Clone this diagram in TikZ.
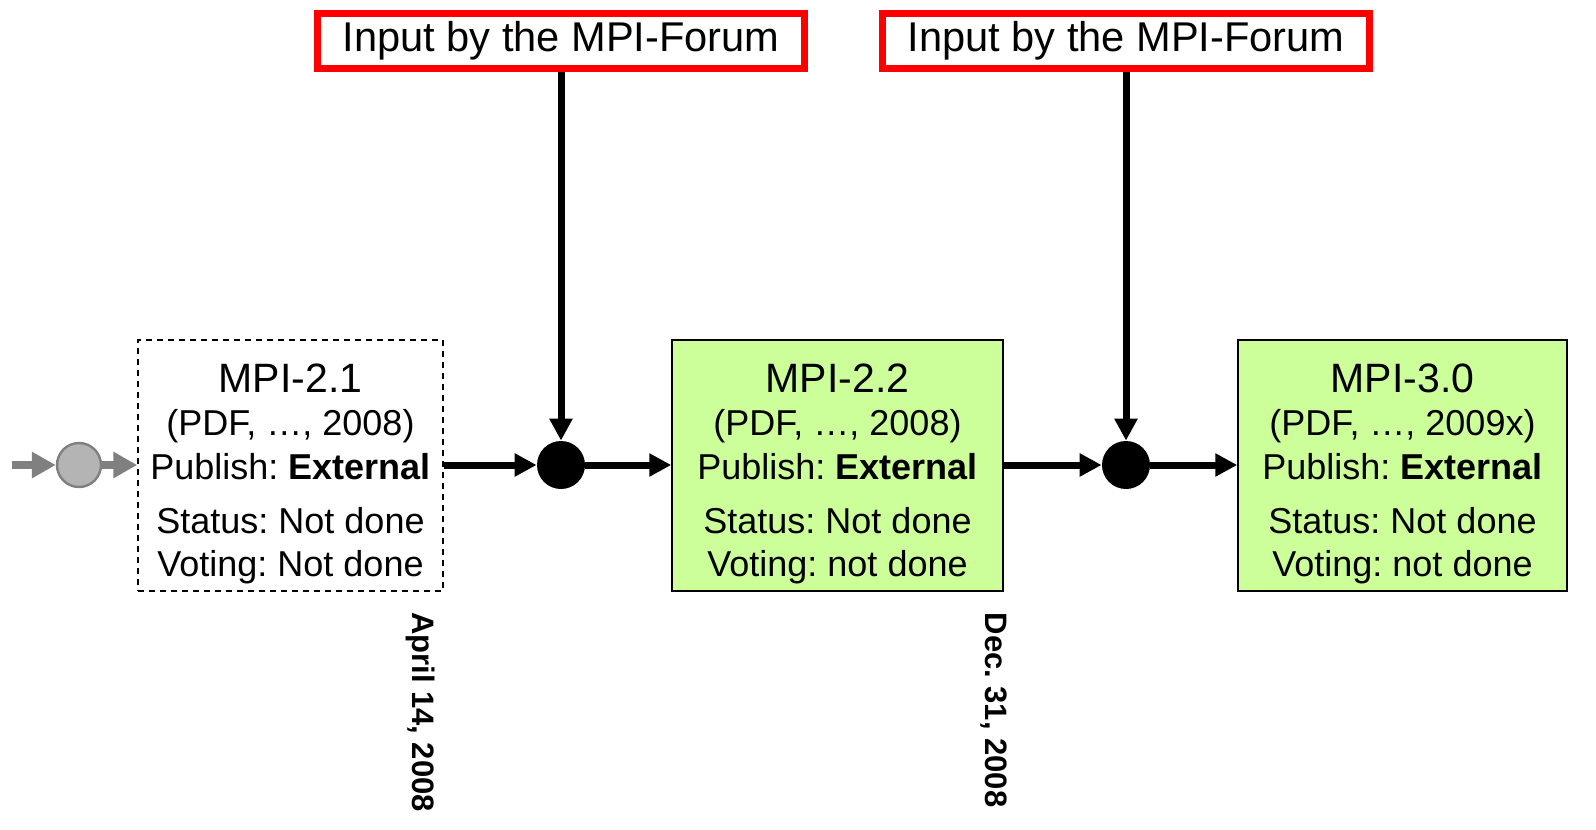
\documentclass[tikz,border=0pt]{standalone}
\usepackage{fontspec}
\setmainfont{Liberation Sans}
\usetikzlibrary{arrows.meta}
\definecolor{boxgreen}{RGB}{204,255,153}
\definecolor{arrgray}{RGB}{128,128,128}
\definecolor{dotgray}{RGB}{180,180,180}
\frenchspacing
\begin{document}
\begin{tikzpicture}[x=0.5pt,y=-0.5pt,
  inputbox/.style={draw=red, line width=3.5pt, minimum width=243.5pt, minimum height=27.5pt, inner sep=0pt, font=\fontsize{20.8}{24}\selectfont},
  verbox/.style={draw=black, line width=0.75pt, minimum height=125.5pt, inner sep=0pt},
  oldbox/.style={verbox, dashed, dash pattern=on 3pt off 2.5pt},
  newbox/.style={verbox, fill=boxgreen},
  titletext/.style={anchor=base, inner sep=0pt, font=\fontsize{20.5}{24}\selectfont},
  linetext/.style={anchor=base, inner sep=0pt, font=\fontsize{18}{21}\selectfont},
  datetext/.style={rotate=-90, inner sep=0pt, font=\fontsize{15.5}{18}\bfseries\selectfont},
  joint/.style={circle, fill=black, minimum size=24pt, inner sep=0pt},
  blackarrow/.style={line width=3.5pt, -{Triangle[length=11pt,width=11pt]}},
  grayarrow/.style={draw=arrgray, line width=4pt, -{Triangle[length=12pt,width=12.5pt]}}
]
\useasboundingbox (0,0) rectangle (1596,830);

% input boxes
\node[inputbox] (inp1) at (561,41) {Input by the MPI-Forum};
\node[inputbox] (inp2) at (1126,41) {Input by the MPI-Forum};

% version boxes
\node[oldbox, minimum width=152.5pt] (v21) at (290.5,465.5) {};
\node[newbox, minimum width=165.5pt] (v22) at (837.5,465.5) {};
\node[newbox, minimum width=164.5pt] (v30) at (1402.5,465.5) {};

% texts MPI-2.1
\node[titletext] (v21a) at (290.5,392) {MPI-2.1};
\node[linetext] (v21b) at (290.5,435) {(PDF, …, 2008)};
\node[linetext] (v21c) at (290.5,479) {Publish: \textbf{External}};
\node[linetext] (v21d) at (290.5,533) {Status: Not done};
\node[linetext] (v21e) at (290.5,576) {Voting: Not done};
% texts MPI-2.2
\node[titletext] (v22a) at (837.5,392) {MPI-2.2};
\node[linetext] (v22b) at (837.5,435) {(PDF, …, 2008)};
\node[linetext] (v22c) at (837.5,479) {Publish: \textbf{External}};
\node[linetext] (v22d) at (837.5,533) {Status: Not done};
\node[linetext] (v22e) at (837.5,576) {Voting: not done};
% texts MPI-3.0
\node[titletext] (v30a) at (1402.5,392) {MPI-3.0};
\node[linetext] (v30b) at (1402.5,435) {(PDF, …, 2009x)};
\node[linetext] (v30c) at (1402.5,479) {Publish: \textbf{External}};
\node[linetext] (v30d) at (1402.5,533) {Status: Not done};
\node[linetext] (v30e) at (1402.5,576) {Voting: not done};

% joints
\node[joint] (j1) at (561,465) {};
\node[joint] (j2) at (1126,465) {};
\node[circle, fill=dotgray, draw=arrgray, line width=1.2pt, minimum size=22pt, inner sep=0pt] (start) at (79,465) {};
\coordinate (s0) at (12,465);

% connectors
\draw[grayarrow] (s0) -- (start.west);
\draw[grayarrow] (start.east) -- (v21.west |- start.east);
\draw[blackarrow] (v21.east |- j1.west) -- (j1.west);
\draw[blackarrow] (j1.east) -- (v22.west |- j1.east);
\draw[blackarrow] (v22.east |- j2.west) -- (j2.west);
\draw[blackarrow] (j2.east) -- (v30.west |- j2.east);
\draw[blackarrow] (inp1.south) -- (j1.north);
\draw[blackarrow] (inp2.south) -- (j2.north);

% dates
\node[datetext] (d1) at (421,712) {April 14, 2008};
\node[datetext] (d2) at (994,710) {Dec. 31, 2008};
\end{tikzpicture}
\end{document}
